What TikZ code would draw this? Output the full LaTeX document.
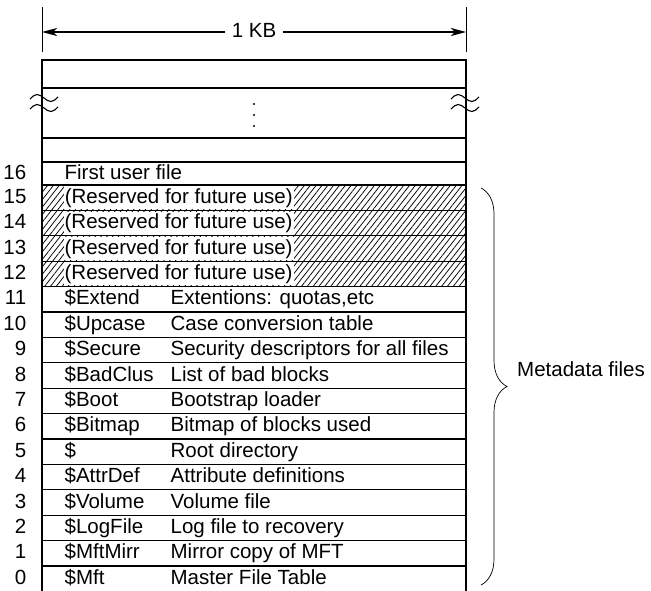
\documentclass[tikz,border=0pt]{standalone}
\usepackage{fontspec}
\setmainfont{Liberation Sans}
\usetikzlibrary{positioning,arrows.meta,patterns.meta,decorations.pathreplacing}
\tikzstyle{slot} = [draw, rectangle, line width=1.1pt, minimum width=424pt, minimum height=25.4pt, inner sep=0pt]
\tikzstyle{hatched} = [pattern={Lines[angle=52, distance=4.6pt, line width=0.75pt]}]
\tikzstyle{entry} = [inner sep=0pt, text height=17pt, text depth=6pt]
\tikzstyle{blank} = [entry, fill=white, inner xsep=1pt]
\tikzstyle{thin} = [draw, line width=0.6pt]
\tikzstyle{wave} = [draw, line width=1.1pt]
\tikzstyle{dim} = [draw, line width=1.1pt, arrows={Stealth[length=15pt, width=8pt, inset=4pt]-Stealth[length=15pt, width=8pt, inset=4pt]}]
\tikzstyle{brace} = [draw, line width=0.7pt, decorate, decoration={brace, amplitude=26pt}]

\begin{document}
\begin{tikzpicture}[x=1pt, y=-1pt, font=\fontsize{20.5}{24}\selectfont]
    \useasboundingbox (0,0) rectangle (651,590);
    % record width
    \draw[thin] (42,7) -- (42,52);
    \draw[thin] (466,7) -- (466,52);
    \coordinate (kbL) at (42,32);
    \coordinate (kbR) at (466,32);
    \path[dim] (kbL) -- node[entry, fill=white, inner xsep=7pt] (kb) {1 KB} (kbR);
    % upper part of the table
    \node[slot, minimum height=28pt] (top) at (254,74) {};
    \node[slot, minimum height=50pt] (gap) at (254,113) {};
    \node[slot, minimum height=24pt] (free) at (254,150) {};
    \node[slot, minimum height=23pt] (r16) at (254,173.5) {};
    \node[entry, left=15pt of r16.west] (n16) {16};
    \node[entry, right=23pt of r16.west] (f16) {First user file};
    \foreach \y in {104,115,126} \fill (254,\y) circle (1.2pt);
    \foreach \x in {44,465} \foreach \y in {98,108}
        \draw[wave] (\x-14,\y+1) sin (\x-7,\y-3.5) cos (\x,\y) sin (\x+7,\y+3.5) cos (\x+14,\y-1);
    % reserved records
    \foreach \n in {15,14,13,12} {
        \node[slot, hatched] (r\n) at (254,{185+(15-\n)*25.4+12.7}) {};
        \node[entry, left=15pt of r\n.west] (n\n) {\n};
        \node[blank, right=22pt of r\n.west] (f\n) {(Reserved for future use)};
    }
    % metadata records
    \foreach \n/\name/\what in {11/\$Extend/{Extentions: quotas,etc}, 10/\$Upcase/Case conversion table,
        9/\$Secure/Security descriptors for all files, 8/\$BadClus/List of bad blocks,
        7/\$Boot/Bootstrap loader, 6/\$Bitmap/Bitmap of blocks used, 5/\$/Root directory,
        4/\$AttrDef/Attribute definitions, 3/\$Volume/Volume file, 2/\$LogFile/Log file to recovery,
        1/\$MftMirr/Mirror copy of MFT, 0/\$Mft/Master File Table} {
        \node[slot] (r\n) at (254,{185+(15-\n)*25.4+12.7}) {};
        \node[entry, left=15pt of r\n.west] (n\n) {\n};
        \node[entry, right=23pt of r\n.west] (a\n) {\name};
        \node[entry, right=129pt of r\n.west] (b\n) {\what};
    }
    % brace
    \coordinate (bt) at (481,188);
    \coordinate (bb) at (481,585);
    \path[brace] (bt) -- (bb);
    \node[entry, anchor=west] (meta) at (517,371) {Metadata files};
\end{tikzpicture}
\end{document}
